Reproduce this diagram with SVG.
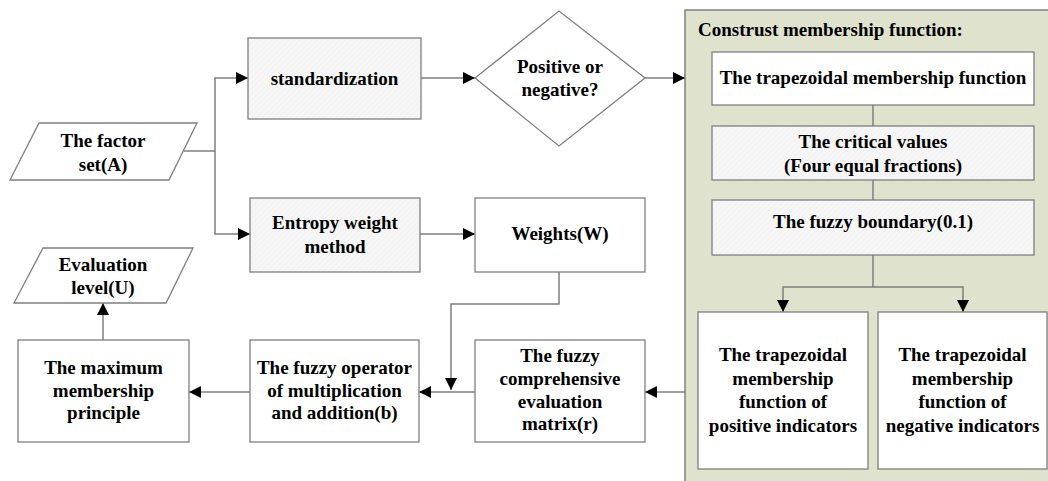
<svg xmlns="http://www.w3.org/2000/svg" width="1048" height="481" viewBox="0 0 1048 481">
<defs>
<marker id="ah" markerWidth="13" markerHeight="12" refX="12" refY="6" orient="auto" markerUnits="userSpaceOnUse">
<path d="M0,0 L12,6 L0,12 Z" fill="#000"/>
</marker>
<pattern id="hatch" width="4" height="4" patternUnits="userSpaceOnUse" patternTransform="rotate(45)">
<rect width="4" height="4" fill="#f6f6f6"/>
<line x1="0" y1="0" x2="0" y2="4" stroke="#ececec" stroke-width="1"/>
</pattern>
</defs>
<style>
text{font-weight:bold;font-size:19px;fill:#000;text-anchor:middle}
.box{fill:#fff;stroke:#7f7f7f;stroke-width:1.3}
.gbox{fill:url(#hatch);stroke:#7f7f7f;stroke-width:1.3}
.con{fill:none;stroke:#7f7f7f;stroke-width:1.5}
.arr{marker-end:url(#ah)}
</style>
<g font-family="Liberation Serif, DejaVu Serif, serif">
<g id="container">
<rect x="685" y="10" width="380" height="490" fill="#dfe2cd" stroke="#7f7f7f" stroke-width="1.5"/>
<text x="698" y="36" style="text-anchor:start">Construst membership function:</text>
</g>
<g id="connectors">
<polyline class="con" points="184,151 215,151"/>
<polyline class="con arr" points="215,151 215,78 248,78"/>
<polyline class="con arr" points="215,151 215,234 250,234"/>
<polyline class="con arr" points="421,78 475,78"/>
<polyline class="con arr" points="645,78 685,78"/>
<polyline class="con arr" points="420,234 475,234"/>
<polyline class="con" points="873,105 873,126"/>
<polyline class="con" points="873,180 873,200"/>
<polyline class="con" points="873,255 873,287"/>
<polyline class="con arr" points="873,287 783,287 783,312"/>
<polyline class="con arr" points="873,287 963,287 963,312"/>
<polyline class="con arr" points="685,392 645,392"/>
<polyline class="con arr" points="475,392 419,392"/>
<polyline class="con arr" points="559,272 559,304 451,304 451,390"/>
<polyline class="con arr" points="250,392 189,392"/>
<polyline class="con arr" points="103,340 103,303"/>
</g>
<g id="factor">
<polygon class="box" points="39,123 197,123 169,180 10,180"/>
<text x="103" y="147">The factor</text>
<text x="103" y="171">set(A)</text>
</g>
<g id="standardization">
<rect class="gbox" x="248" y="38" width="173" height="81"/>
<text x="334.5" y="85">standardization</text>
</g>
<g id="entropy">
<rect class="gbox" x="250" y="198" width="170" height="74"/>
<text x="335" y="229">Entropy weight</text>
<text x="335" y="253">method</text>
</g>
<g id="decision">
<polygon class="box" points="475,78 559,11 645,78 559,146"/>
<text x="560" y="73">Positive or</text>
<text x="560" y="96">negative?</text>
</g>
<g id="weights">
<rect class="box" x="475" y="198" width="170" height="74"/>
<text x="560" y="240">Weights(W)</text>
</g>
<g id="trapezoidal">
<rect class="box" x="712" y="52" width="322" height="53"/>
<text x="873" y="84">The trapezoidal membership function</text>
</g>
<g id="critical">
<rect class="gbox" x="712" y="126" width="322" height="54"/>
<text x="873" y="148">The critical values</text>
<text x="873" y="172">(Four equal fractions)</text>
</g>
<g id="boundary">
<rect class="gbox" x="712" y="200" width="322" height="55"/>
<text x="873" y="228">The fuzzy boundary(0.1)</text>
</g>
<g id="positive">
<rect class="box" x="698" y="312" width="170" height="157"/>
<text x="783" y="361">The trapezoidal</text>
<text x="783" y="385">membership</text>
<text x="783" y="408">function of</text>
<text x="783" y="432">positive indicators</text>
</g>
<g id="negative">
<rect class="box" x="878" y="312" width="169" height="157"/>
<text x="962.5" y="361">The trapezoidal</text>
<text x="962.5" y="385">membership</text>
<text x="962.5" y="408">function of</text>
<text x="962.5" y="432">negative indicators</text>
</g>
<g id="matrix">
<rect class="box" x="475" y="340" width="170" height="102"/>
<text x="560" y="362">The fuzzy</text>
<text x="560" y="385">comprehensive</text>
<text x="560" y="408">evaluation</text>
<text x="560" y="430">matrix(r)</text>
</g>
<g id="operator">
<rect class="box" x="250" y="340" width="169" height="102"/>
<text x="334.5" y="374">The fuzzy operator</text>
<text x="334.5" y="397">of multiplication</text>
<text x="334.5" y="419">and addition(b)</text>
</g>
<g id="maximum">
<rect class="box" x="18" y="340" width="171" height="102"/>
<text x="103.5" y="374">The maximum</text>
<text x="103.5" y="397">membership</text>
<text x="103.5" y="419">principle</text>
</g>
<g id="evaluation">
<polygon class="box" points="43,248 193,248 166,303 14,303"/>
<text x="103" y="271">Evaluation</text>
<text x="103" y="294">level(U)</text>
</g>
</g>
</svg>
